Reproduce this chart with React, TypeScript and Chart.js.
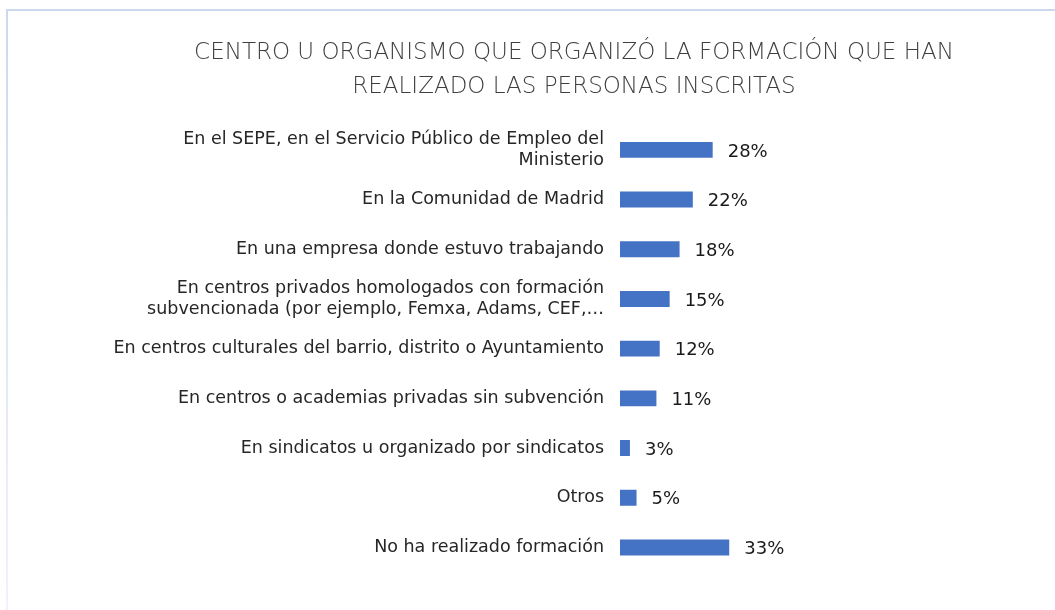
import React, { useEffect, useRef } from "react";
import { Chart, registerables } from "chart.js";

Chart.register(...registerables);

const titleLines = [
  "CENTRO U ORGANISMO QUE ORGANIZÓ LA FORMACIÓN QUE HAN",
  "REALIZADO LAS PERSONAS INSCRITAS",
];

const categories: (string | string[])[] = [
  ["En el SEPE, en el Servicio Público de Empleo del", "Ministerio"],
  "En la Comunidad de Madrid",
  "En una empresa donde estuvo trabajando",
  ["En centros privados homologados con formación", "subvencionada (por ejemplo, Femxa, Adams, CEF,…"],
  "En centros culturales del barrio, distrito o Ayuntamiento",
  "En centros o academias privadas sin subvención",
  "En sindicatos u organizado por sindicatos",
  "Otros",
  "No ha realizado formación",
];

const values = [28, 22, 18, 15, 12, 11, 3, 5, 33];

const FONT = "'DejaVu Sans', sans-serif";

const titlePlugin = {
  id: "customTitle",
  afterDraw(chart: any) {
    const { ctx } = chart;
    ctx.save();
    ctx.font = `200 23px ${FONT}`;
    ctx.fillStyle = "#3f3f3f";
    ctx.textAlign = "center";
    ctx.textBaseline = "alphabetic";
    const cx = 574;
    const baselines = [59, 93];
    titleLines.forEach((line, i) => ctx.fillText(line, cx, baselines[i]));
    ctx.restore();
  },
};

const dataLabelPlugin = {
  id: "dataLabels",
  afterDatasetsDraw(chart: any) {
    const { ctx } = chart;
    const meta = chart.getDatasetMeta(0);
    ctx.save();
    ctx.font = `18px ${FONT}`;
    ctx.fillStyle = "#1a1a1a";
    ctx.textAlign = "left";
    ctx.textBaseline = "middle";
    meta.data.forEach((bar: any, i: number) => {
      ctx.fillText(`${values[i]}%`, bar.x + 15, bar.y + 2);
    });
    ctx.restore();
  },
};

export default function App() {
  const canvasRef = useRef<HTMLCanvasElement | null>(null);

  useEffect(() => {
    if (!canvasRef.current) return;
    const chart = new Chart(canvasRef.current, {
      type: "bar",
      data: {
        labels: categories,
        datasets: [
          {
            data: values,
            backgroundColor: "#4472C4",
            borderWidth: 0,
            barPercentage: 0.32,
            categoryPercentage: 1,
          },
        ],
      },
      options: {
        indexAxis: "y",
        animation: false,
        responsive: false,
        maintainAspectRatio: false,
        layout: { padding: { left: 0, right: 104, top: 125, bottom: 37 } },
        plugins: {
          legend: { display: false },
          tooltip: { enabled: false },
          title: { display: false },
        },
        scales: {
          x: {
            display: false,
            min: 0,
            max: 100,
          },
          y: {
            grid: { display: false, drawTicks: false },
            border: { display: false },
            ticks: {
              color: "#262626",
              padding: 16,
              font: { family: FONT, size: 17.5, lineHeight: 1.24 },
            },
            afterFit(scale: any) {
              scale.width = 620;
            },
          },
        },
      },
      plugins: [dataLabelPlugin, titlePlugin],
    });
    return () => chart.destroy();
  }, []);

  return (
    <div style={{ position: "fixed", left: 0, top: 0, width: 1055, height: 610, background: "#fff", overflow: "hidden" }}>
      <div style={{ position: "absolute", left: 7, top: 9, width: 1100, height: 2, background: "#cbd8f0" }} />
      <div
        style={{
          position: "absolute",
          left: 6,
          top: 9,
          width: 2,
          height: 610,
          background: "linear-gradient(#cbd8f0, #dfe6f5 50%, #f1f3f9)",
        }}
      />
      <canvas ref={canvasRef} width={1055} height={610} style={{ position: "absolute", left: 0, top: 0 }} />
    </div>
  );
}
